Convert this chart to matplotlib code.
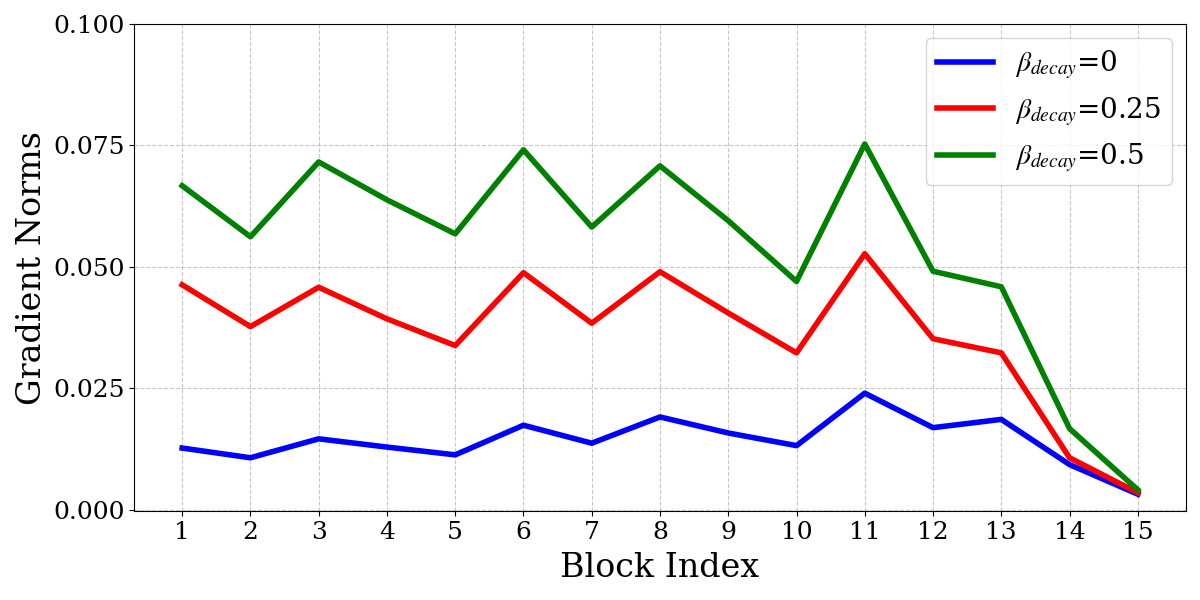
import matplotlib
matplotlib.use('Agg')
import matplotlib.pyplot as plt

plt.rcParams['font.family'] = 'DejaVu Serif'
plt.rcParams['mathtext.fontset'] = 'stix'

blocks = list(range(1, 16))
g_decay0 = [0.0127, 0.0107, 0.0146, 0.0129, 0.0113, 0.0174, 0.0137, 0.0191,
            0.0158, 0.0132, 0.0240, 0.0169, 0.0186, 0.0093, 0.0032]
g_decay025 = [0.0463, 0.0377, 0.0458, 0.0393, 0.0338, 0.0488, 0.0384, 0.0490,
              0.0405, 0.0323, 0.0527, 0.0352, 0.0323, 0.0107, 0.0035]
g_decay05 = [0.0667, 0.0562, 0.0716, 0.0638, 0.0568, 0.0741, 0.0582, 0.0708,
             0.0595, 0.0470, 0.0753, 0.0491, 0.0459, 0.0167, 0.0041]

fig, ax = plt.subplots(figsize=(12, 6), dpi=100)
ax.plot(blocks, g_decay0, color='blue', linewidth=4, label=r'$\beta_{decay}$=0')
ax.plot(blocks, g_decay025, color='red', linewidth=4, label=r'$\beta_{decay}$=0.25')
ax.plot(blocks, g_decay05, color='green', linewidth=4, label=r'$\beta_{decay}$=0.5')

ax.set_xticks(blocks)
ax.set_yticks([0, 0.025, 0.05, 0.075, 0.1])
ax.set_ylim(-0.0003, 0.1)
ax.tick_params(labelsize=18)
ax.set_xlabel('Block Index', fontsize=24, labelpad=6)
ax.set_ylabel('Gradient Norms', fontsize=24)
ax.grid(True, linestyle='--', alpha=0.7)
ax.legend(fontsize=20, loc='upper right')

plt.subplots_adjust(left=0.112, right=0.988, top=0.96, bottom=0.148)
plt.savefig('out.png')
